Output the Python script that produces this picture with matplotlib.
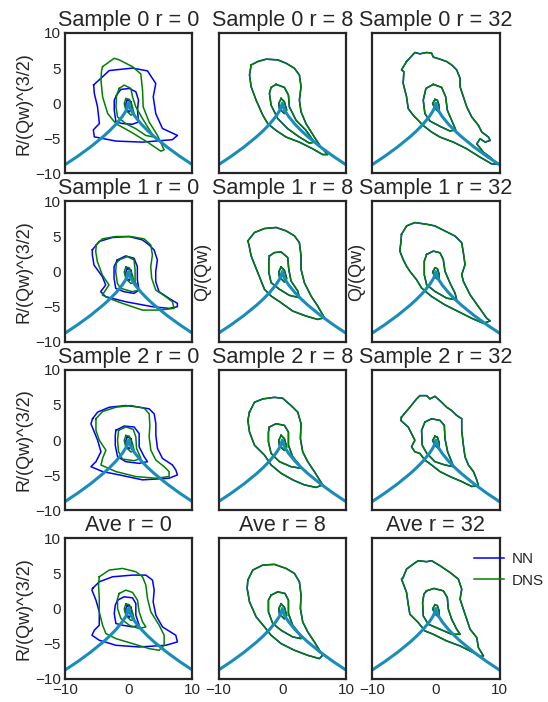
import numpy as np
import matplotlib
matplotlib.use('Agg')
import matplotlib.pyplot as plt

plt.rcParams['font.family'] = ['Liberation Sans', 'DejaVu Sans']
plt.rcParams['text.color'] = '.15'
plt.rcParams['axes.labelcolor'] = '.15'
plt.rcParams['xtick.color'] = '.15'
plt.rcParams['ytick.color'] = '.15'

# Vieillefosse line
VF_X = [-10, -8, -6, -4, -3, -2, -1, -0.5, -0.25, 0, 0.25, 0.5, 1, 2, 3, 4, 6, 8, 10]
VF_Y = [-8.77, -7.56, -6.24, -4.76, -3.93, -3.0, -1.89, -1.19, -0.75, 0.0,
        -0.75, -1.19, -1.89, -3.0, -3.93, -4.76, -6.24, -7.56, -8.77]

# small innermost loops (same in every row of a column)
INNER_R0_NN = [(-0.2, 0.45), (-0.45, -0.05), (-0.4, -0.8), (0.1, -1.25), (0.5, -0.75), (0.4, 0.2)]
INNER_R0_DNS = [(-0.45, 0.65), (-0.7, -0.05), (-0.45, -1.0), (0.35, -1.7), (0.85, -1.5), (0.6, -0.55), (0.1, 0.55)]
INNER_R8 = [(-0.18, 0.67), (-0.55, -0.05), (-0.44, -0.77), (0.34, -1.48), (0.7, -1.0), (0.34, 0.19)]
INNER_R32 = [(-0.13, 0.53), (-0.5, -0.05), (-0.13, -0.77), (0.5, -1.24), (0.55, -0.43), (0.24, 0.43)]

# ---- Sample 0 ----
S0_R0_NN_OUT = [(-5.5, 2.6), (-3.05, 4.65), (0.6, 5.0), (2.95, 4.6), (4.25, 2.8), (3.85, 0.9), (4.25, -1.5),
                (5.3, -3.6), (7.65, -4.6), (6.85, -5.2), (2.2, -5.55), (-2.0, -5.4), (-5.4, -4.8),
                (-5.55, -3.8), (-4.6, -2.9), (-4.9, -0.5), (-5.4, 1.4)]
S0_R0_NN_MID = [(-1.9, 1.15), (-1.23, 1.96), (0.08, 2.1), (1.12, 1.63), (1.54, 0.43), (1.38, -1.0),
                (1.54, -2.68), (0.6, -3.0), (-0.97, -2.9), (-2.0, -2.68), (-2.27, -1.0), (-2.27, 0.43)]
S0_R0_DNS_OUT = [(-4.1, 5.2), (-2.27, 6.4), (-1.49, 6.17), (0.6, 5.2), (1.9, 4.16), (2.17, 1.87), (2.27, -0.53),
                 (3.21, -2.68), (4.52, -4.6), (5.56, -6.65), (5.04, -6.84), (2.95, -5.55), (0.34, -4.1),
                 (-2.0, -2.92), (-3.3, -1.48), (-4.1, 0.91), (-4.36, 3.3), (-4.26, 4.64)]
S0_R0_DNS_MID = [(-1.49, 2.1), (-0.71, 2.58), (0.34, 2.1), (0.6, 0.91), (1.12, -0.53), (2.17, -2.2),
                 (3.47, -4.11), (4.0, -4.83), (2.69, -4.6), (1.12, -3.64), (-0.44, -2.92), (-1.75, -1.96),
                 (-2.0, -0.53), (-1.9, 1.15)]
S0_R8_OUT = [(-4.88, 5.45), (-3.84, 5.93), (-2.53, 6.27), (-0.7, 6.17), (0.6, 5.69), (1.9, 4.98), (2.69, 4.02),
             (2.95, 2.34), (2.69, 0.43), (2.95, -1.24), (3.73, -2.92), (5.04, -4.83), (6.08, -6.27),
             (7.13, -7.32), (6.34, -7.32), (4.78, -6.5), (2.69, -5.55), (0.6, -4.83), (-0.97, -3.88),
             (-2.27, -2.92), (-3.05, -1.72), (-4.1, 0.43), (-4.88, 2.34), (-5.14, 4.02)]
S0_R8_MID = [(-0.97, 2.68), (0.34, 2.25), (0.97, 1.15), (1.12, -0.53), (2.17, -2.44), (3.73, -3.88),
             (5.04, -5.55), (4.26, -5.69), (2.69, -4.83), (0.86, -3.64), (-0.7, -2.2), (-1.75, -0.29),
             (-2.01, 1.39), (-1.75, 2.25)]
S0_R32_OUT = [(-4.59, 5.93), (-3.28, 7.22), (-2.49, 7.03), (-1.44, 7.22), (-0.66, 7.13), (-0.39, 6.56),
              (0.66, 6.27), (1.71, 5.93), (2.49, 5.45), (3.28, 4.74), (3.81, 3.54), (3.81, 2.34), (4.33, 0.91),
              (4.86, -0.53), (5.64, -1.96), (6.69, -3.16), (7.22, -4.11), (8.27, -4.83), (8.53, -5.31),
              (7.74, -5.55), (6.96, -5.07), (6.43, -5.79), (7.48, -6.99), (8.53, -7.7), (9.58, -8.66),
              (8.79, -8.66), (6.96, -7.7), (4.86, -6.5), (2.76, -5.55), (0.66, -4.83), (-0.66, -4.11),
              (-2.0, -3.16), (-3.54, -1.72), (-4.33, -0.77), (-4.59, 0.91), (-5.12, 2.82), (-5.01, 4.5),
              (-5.38, 4.74)]
S0_R32_MID = [(-0.39, 2.68), (0.92, 2.25), (1.55, 0.91), (1.81, -1.0), (2.49, -2.44), (3.12, -3.78),
              (2.23, -3.97), (0.66, -3.3), (-0.92, -2.54), (-1.71, -1.48), (-1.97, 0.43), (-1.55, 2.1)]

# ---- Sample 1 ----
S1_R0_NN_OUT = [(-5.71, 3.1), (-4.66, 4.29), (-2.57, 4.86), (0.05, 5.0), (2.15, 4.52), (3.19, 3.81), (3.98, 3.1),
                (4.5, 1.67), (4.24, 0.0), (4.24, -1.43), (4.76, -2.86), (6.34, -3.81), (7.64, -4.52),
                (7.64, -5.0), (6.34, -5.24), (3.72, -5.0), (-0.47, -4.29), (-3.61, -3.57), (-4.4, -2.86),
                (-3.61, -1.9), (-4.14, -0.71), (-5.45, 0.95), (-5.71, 2.38)]
S1_R0_NN_MID = [(-1.78, 1.67), (-0.47, 2.24), (0.84, 1.9), (1.36, 0.71), (1.36, -1.19), (1.62, -2.62),
                (0.84, -3.1), (-0.73, -2.86), (-2.04, -2.38), (-2.3, -0.95), (-2.3, 0.71)]
S1_R0_DNS_OUT = [(-5.08, 3.81), (-4.14, 4.67), (-2.04, 5.0), (0.31, 5.0), (2.41, 4.67), (3.46, 3.81),
                 (3.72, 2.38), (3.46, 0.71), (3.61, -0.95), (4.24, -2.62), (5.81, -3.57), (6.86, -4.29),
                 (7.12, -5.24), (4.76, -5.48), (2.15, -5.48), (-0.99, -4.52), (-3.09, -3.81), (-4.14, -3.33),
                 (-3.09, -1.9), (-4.14, -0.48), (-4.92, 1.43), (-5.18, 2.86)]
S1_R0_DNS_MID = [(-1.52, 1.67), (-0.21, 2.14), (0.84, 1.67), (1.0, 0.24), (1.0, -1.43), (1.62, -2.62),
                 (0.58, -2.86), (-1.25, -2.38), (-1.78, -1.67), (-2.04, -0.0), (-1.94, 1.19)]
S1_R8_OUT = [(-5.4, 4.38), (-4.36, 5.57), (-2.79, 6.14), (-0.97, 6.29), (0.6, 5.81), (1.91, 5.1), (2.69, 4.14),
             (2.95, 2.24), (2.95, 0.33), (3.47, -1.57), (4.52, -3.48), (5.56, -4.9), (6.61, -6.57),
             (5.56, -6.81), (3.73, -6.33), (1.64, -5.62), (-0.18, -4.43), (-1.75, -3.48), (-2.79, -2.52),
             (-3.84, -0.14), (-4.88, 2.24), (-5.25, 3.9)]
S1_R8_MID = [(-2.01, 2.24), (-1.23, 2.71), (-0.18, 2.81), (0.86, 2.0), (1.02, 0.33), (1.38, -1.33),
             (2.43, -2.76), (2.69, -3.71), (1.12, -3.38), (-0.44, -2.52), (-1.75, -1.57), (-2.11, -0.1),
             (-2.11, 1.52)]
S1_R32_OUT = [(-5.38, 5.31), (-4.59, 6.51), (-3.28, 6.99), (-1.44, 6.75), (-0.13, 6.51), (1.44, 5.79),
              (3.02, 5.07), (4.07, 4.11), (4.33, 2.68), (4.59, 1.0), (4.07, -0.43), (4.33, -1.39),
              (5.38, -3.3), (6.69, -4.98), (8.0, -6.65), (8.53, -7.03), (7.48, -7.37), (5.64, -6.65),
              (3.54, -5.69), (1.44, -4.74), (-0.66, -3.54), (-2.23, -2.34), (-3.02, -1.15), (-4.07, 0.05),
              (-4.59, 0.77), (-5.12, 1.72), (-5.64, 2.92), (-5.49, 4.11)]
S1_R32_MID = [(-1.44, 2.44), (-0.39, 2.92), (0.66, 2.68), (1.18, 1.72), (1.44, 0.05), (2.23, -1.63),
              (3.02, -3.06), (3.28, -4.02), (1.71, -3.78), (-0.13, -2.82), (-1.44, -1.87), (-1.81, -0.43),
              (-1.81, 1.48)]

# ---- Sample 2 ----
S2_R0_NN_OUT = [(-5.67, 3.04), (-4.88, 3.98), (-3.05, 4.68), (-0.44, 4.92), (1.64, 4.68), (3.21, 4.45),
                (4.0, 3.74), (4.26, 2.33), (4.26, 0.68), (4.52, -1.2), (5.3, -2.61), (6.87, -3.55),
                (7.39, -4.26), (7.65, -4.96), (6.34, -5.44), (2.17, -5.67), (-1.49, -4.96), (-4.1, -4.49),
                (-5.93, -3.79), (-5.14, -3.08), (-4.36, -1.67), (-4.88, -0.02), (-5.4, 1.15), (-5.93, 2.33)]
S2_R0_NN_MID = [(-2.01, 1.39), (-0.71, 2.0), (0.86, 1.86), (1.64, 0.92), (1.64, -0.96), (2.43, -2.38),
                (2.95, -3.08), (1.64, -3.32), (-0.44, -3.08), (-1.75, -2.38), (-2.11, -0.73), (-2.11, 0.68)]
S2_R0_DNS_OUT = [(-5.14, 3.04), (-4.1, 4.07), (-2.01, 4.68), (0.34, 4.92), (2.43, 4.54), (3.21, 3.74),
                 (3.32, 2.09), (3.21, 0.45), (3.47, -1.44), (4.26, -2.85), (5.56, -3.79), (6.34, -4.49),
                 (6.34, -5.2), (4.26, -5.44), (1.12, -5.2), (-2.01, -4.49), (-4.36, -3.55), (-4.1, -2.61),
                 (-3.58, -1.44), (-4.62, -0.02), (-5.14, 1.39)]
S2_R0_DNS_MID = [(-1.59, 1.39), (-0.44, 1.86), (0.71, 1.53), (1.12, 0.45), (1.23, -1.2), (1.91, -2.61),
                 (0.86, -2.94), (-0.97, -2.71), (-1.59, -1.67), (-1.75, -0.02)]
S2_R8_OUT = [(-5.14, 3.98), (-4.36, 5.39), (-3.05, 5.86), (-1.23, 6.09), (0.08, 5.95), (1.38, 4.92),
             (2.43, 3.98), (2.95, 2.33), (2.85, 0.21), (3.21, -1.67), (4.0, -3.08), (5.04, -4.49),
             (6.34, -6.38), (5.3, -6.75), (3.47, -6.38), (1.64, -5.67), (-0.18, -4.73), (-1.75, -3.55),
             (-2.79, -2.14), (-4.36, -0.73), (-5.14, 1.15), (-5.4, 2.8)]
S2_R8_MID = [(-2.01, 1.86), (-0.97, 2.33), (0.34, 2.09), (0.97, 1.15), (0.97, -0.73), (1.64, -2.38),
             (2.69, -3.55), (2.95, -4.02), (1.38, -3.79), (-0.44, -3.08), (-1.75, -1.91), (-2.17, -0.26),
             (-2.17, 1.15)]
S2_R32_OUT = [(-5.38, 3.27), (-4.07, 4.68), (-3.02, 5.86), (-2.49, 6.33), (-1.44, 6.33), (-0.92, 5.86),
              (-0.13, 6.24), (0.92, 5.39), (1.71, 4.68), (2.49, 4.21), (3.28, 3.51), (4.07, 3.04),
              (4.07, 1.39), (4.33, -0.73), (4.59, -2.38), (5.12, -3.55), (5.91, -4.49), (6.43, -5.67),
              (6.69, -6.47), (5.64, -6.61), (4.07, -5.91), (2.23, -5.2), (0.66, -4.49), (-0.66, -3.55),
              (-1.71, -2.85), (-2.49, -1.91), (-3.28, -1.67), (-3.81, -0.96), (-3.28, -0.02),
              (-3.81, 0.92), (-4.33, 1.86), (-5.49, 2.8)]
S2_R32_MID = [(-1.71, 2.56), (-0.66, 3.04), (0.66, 2.8), (1.34, 2.09), (1.44, 0.21), (1.86, -1.67),
              (2.49, -3.08), (2.76, -3.79), (1.44, -3.55), (-0.13, -3.08), (-1.44, -1.86), (-2.13, -0.73),
              (-2.23, 1.39)]

# ---- Average ----
AVE_R0_NN_OUT = [(-5.67, 2.86), (-4.62, 3.81), (-2.53, 4.52), (0.6, 4.76), (2.69, 4.76), (3.73, 4.05),
                 (4.0, 2.62), (3.84, 0.95), (4.26, -0.95), (5.3, -2.62), (7.39, -3.81), (7.65, -4.76),
                 (5.82, -5.24), (1.64, -5.48), (-2.01, -5.24), (-4.62, -4.52), (-5.77, -3.81), (-5.4, -3.1),
                 (-4.62, -2.38), (-4.62, -0.48), (-5.14, 1.19), (-5.77, 2.62)]
AVE_R0_NN_MID = [(-1.75, 1.19), (-0.71, 1.67), (0.6, 1.52), (1.12, 0.71), (1.12, -0.95), (1.64, -2.38),
                 (0.6, -2.62), (-0.97, -2.38), (-2.01, -2.14), (-2.27, -0.71), (-2.11, 0.48)]
AVE_R0_DNS_OUT = [(-4.62, 4.52), (-3.05, 5.48), (-0.97, 5.71), (1.12, 5.24), (2.17, 4.52), (2.69, 3.33),
                  (2.95, 1.43), (3.47, -0.48), (4.78, -2.38), (5.56, -3.81), (5.56, -5.24), (4.78, -5.95),
                  (3.21, -5.71), (0.6, -5.0), (-2.01, -4.29), (-3.58, -3.57), (-4.1, -2.38), (-4.62, -0.48),
                  (-4.62, 1.43), (-4.73, 3.33)]
AVE_R0_DNS_MID = [(-1.49, 2.14), (-0.44, 2.62), (0.6, 2.29), (1.38, 1.19), (1.64, -0.48), (2.17, -1.9),
                  (2.69, -2.62), (1.64, -2.86), (0.08, -2.38), (-1.23, -1.43), (-1.75, 0.0), (-1.75, 1.43)]
AVE_R8_OUT = [(-5.4, 4.05), (-4.62, 5.48), (-3.05, 6.19), (-1.23, 6.29), (0.6, 5.71), (1.91, 5.0),
              (2.69, 3.81), (2.95, 1.9), (2.85, 0.0), (3.21, -1.9), (4.0, -3.33), (5.04, -4.76),
              (6.34, -6.67), (5.82, -7.14), (4.0, -6.67), (1.91, -5.95), (-0.18, -5.0), (-1.75, -3.81),
              (-2.79, -2.62), (-4.1, -1.19), (-5.14, 0.95), (-5.51, 2.86)]
AVE_R8_MID = [(-1.75, 1.9), (-0.71, 2.38), (0.44, 2.14), (0.97, 1.19), (0.97, -0.71), (1.64, -2.38),
              (2.69, -3.57), (2.95, -4.29), (1.64, -4.05), (-0.18, -3.1), (-1.49, -2.14), (-2.17, -0.48),
              (-2.17, 1.19)]
AVE_R32_OUT = [(-5.12, 4.43), (-4.59, 5.62), (-3.54, 6.33), (-2.76, 6.81), (-1.44, 6.67), (-0.66, 6.81),
               (0.66, 6.1), (2.23, 5.14), (3.54, 4.19), (4.07, 2.76), (3.81, 1.33), (4.33, -0.1),
               (4.86, -1.52), (5.38, -2.95), (6.43, -4.14), (6.69, -5.57), (7.48, -6.76), (6.96, -6.86),
               (5.91, -6.29), (3.81, -5.33), (1.71, -4.62), (-0.39, -3.67), (-1.71, -3.19), (-2.76, -2.0),
               (-4.07, -0.81), (-4.33, 0.62), (-4.59, 2.29), (-5.38, 4.19)]
AVE_R32_MID = [(-1.44, 2.52), (-0.29, 2.86), (1.18, 2.52), (1.81, 1.57), (1.97, -0.1), (2.49, -1.52),
               (3.28, -2.95), (3.81, -3.67), (2.49, -3.67), (0.66, -2.95), (-1.18, -2.24), (-1.97, -1.05),
               (-2.07, 0.86), (-1.86, 2.05)]

ROW_NAMES = ['Sample 0', 'Sample 1', 'Sample 2', 'Ave']
R_VALUES = [0, 8, 32]

# (NN contours, DNS contours) per panel; r = 8 / 32 curves coincide
panels = [
    [([S0_R0_NN_OUT, S0_R0_NN_MID, INNER_R0_NN], [S0_R0_DNS_OUT, S0_R0_DNS_MID, INNER_R0_DNS]),
     ([S0_R8_OUT, S0_R8_MID, INNER_R8], [S0_R8_OUT, S0_R8_MID, INNER_R8]),
     ([S0_R32_OUT, S0_R32_MID, INNER_R32], [S0_R32_OUT, S0_R32_MID, INNER_R32])],
    [([S1_R0_NN_OUT, S1_R0_NN_MID, INNER_R0_NN], [S1_R0_DNS_OUT, S1_R0_DNS_MID, INNER_R0_DNS]),
     ([S1_R8_OUT, S1_R8_MID, INNER_R8], [S1_R8_OUT, S1_R8_MID, INNER_R8]),
     ([S1_R32_OUT, S1_R32_MID, INNER_R32], [S1_R32_OUT, S1_R32_MID, INNER_R32])],
    [([S2_R0_NN_OUT, S2_R0_NN_MID, INNER_R0_NN], [S2_R0_DNS_OUT, S2_R0_DNS_MID, INNER_R0_DNS]),
     ([S2_R8_OUT, S2_R8_MID, INNER_R8], [S2_R8_OUT, S2_R8_MID, INNER_R8]),
     ([S2_R32_OUT, S2_R32_MID, INNER_R32], [S2_R32_OUT, S2_R32_MID, INNER_R32])],
    [([AVE_R0_NN_OUT, AVE_R0_NN_MID, INNER_R0_NN], [AVE_R0_DNS_OUT, AVE_R0_DNS_MID, INNER_R0_DNS]),
     ([AVE_R8_OUT, AVE_R8_MID, INNER_R8], [AVE_R8_OUT, AVE_R8_MID, INNER_R8]),
     ([AVE_R32_OUT, AVE_R32_MID, INNER_R32], [AVE_R32_OUT, AVE_R32_MID, INNER_R32])],
]


def closed(pts):
    a = np.array(pts + [pts[0]])
    return a[:, 0], a[:, 1]


fig, axes = plt.subplots(4, 3, figsize=(5.48, 7.02), dpi=100, sharex=True, sharey=True)
fig.subplots_adjust(left=0.1186, right=0.9115, top=0.953, bottom=0.0332, wspace=0.205, hspace=0.2)

for i in range(4):
    for j in range(3):
        ax = axes[i, j]
        nn, dns = panels[i][j]
        for k, c in enumerate(nn):
            ax.plot(*closed(c), color='b', lw=1.1, label='NN' if k == 0 else None)
        for k, c in enumerate(dns):
            ax.plot(*closed(c), color='g', lw=1.1, label='DNS' if k == 0 else None)
        ax.plot(VF_X, VF_Y, color='#1a8cba', lw=2.2)
        ax.set_xlim(-10, 10)
        ax.set_ylim(-10, 10)
        ax.set_xticks([-10, 0, 10])
        ax.set_yticks([-10, -5, 0, 5, 10])
        ax.tick_params(length=0, labelsize=11, pad=3)
        for s in ax.spines.values():
            s.set_color('.15')
            s.set_linewidth(1.6)
        ax.set_title(f'{ROW_NAMES[i]} r = {R_VALUES[j]}', fontsize=15.6, pad=5)
        if j == 0:
            ax.set_ylabel('R/(Qw)^(3/2)', fontsize=13, labelpad=2)

axes[1, 1].set_ylabel('Q/(Qw)', fontsize=13, labelpad=5)
axes[1, 2].set_ylabel('Q/(Qw)', fontsize=13, labelpad=5)

axes[3, 2].legend(loc='upper left', bbox_to_anchor=(0.69, 1.0), frameon=False,
                  fontsize=11, handlelength=2.0, handletextpad=0.5, labelspacing=0.5)

plt.savefig('out.png', dpi=100)
